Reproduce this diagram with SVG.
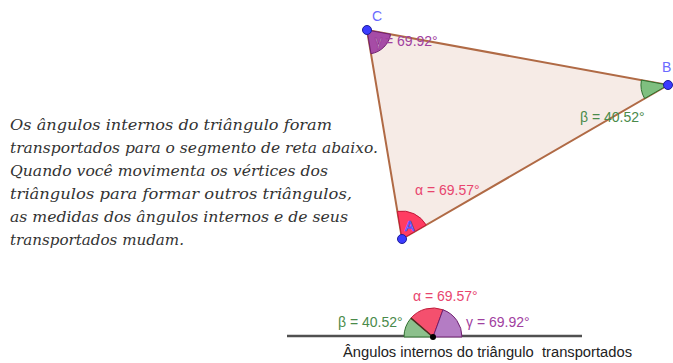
<svg xmlns="http://www.w3.org/2000/svg" width="673" height="363" viewBox="0 0 673 363">
<style>
.body{font-family:"DejaVu Serif","Liberation Serif",serif;font-style:italic;font-size:14px;fill:#333}
.lbl{font-family:"Liberation Sans",Arial,sans-serif;font-size:14px}
.pt{fill:#3b3bff;stroke:#1c1c9a;stroke-width:1}
.va{fill:#e8456e}.vb{fill:#4a8a4a}.vg{fill:#a040a0}
.wa{fill:#ff3d62;stroke:#c01838;stroke-width:1}
.wb{fill:#7fbf7f;stroke:#2e6e2e;stroke-width:1}
.wg{fill:#a64ca6;stroke:#6e1e6e;stroke-width:1}
</style>
<rect width="673" height="363" fill="#fff"/>
<g id="text">
<text class="body" x="10" y="130" textLength="322" lengthAdjust="spacingAndGlyphs">Os ângulos internos do triângulo foram</text>
<text class="body" x="10" y="153" textLength="368" lengthAdjust="spacingAndGlyphs">transportados para o segmento de reta abaixo.</text>
<text class="body" x="10" y="176" textLength="318" lengthAdjust="spacingAndGlyphs">Quando você movimenta os vértices dos</text>
<text class="body" x="10" y="199" textLength="342" lengthAdjust="spacingAndGlyphs">triângulos para formar outros triângulos,</text>
<text class="body" x="10" y="222" textLength="338" lengthAdjust="spacingAndGlyphs">as medidas dos ângulos internos e de seus</text>
<text class="body" x="10" y="245" textLength="174" lengthAdjust="spacingAndGlyphs">transportados mudam.</text>
</g>
<g id="triangle">
<polygon points="402,239 668,85 367,30" fill="#f6ebe6" stroke="#b06a45" stroke-width="2"/>
</g>
<g id="angle-alpha">
<path class="wa" d="M402,239 L426.2,225 A28,28 0 0 0 397.4,211.4 Z"/>
<text class="lbl va" x="415" y="195">α = 69.57°</text>
</g>
<g id="angle-beta">
<path class="wb" d="M668,85 L644.6,98.5 A27,27 0 0 1 641.4,80.1 Z"/>
<text class="lbl vb" x="580" y="122">β = 40.52°</text>
</g>
<g id="angle-gamma">
<path class="wg" d="M367,30 L390.6,34.3 A24,24 0 0 1 371,53.7 Z"/>
<text class="lbl" x="375" y="46" fill="#f2d6f2" stroke="#8a2a8a" stroke-width="0.7">γ</text>
<text class="lbl vg" x="385" y="46">= 69.92°</text>
</g>
<g id="point-A">
<text class="lbl" x="405" y="231" fill="#c8c8ff" stroke="#3b3bff" stroke-width="0.7">A</text>
<circle class="pt" cx="402" cy="239" r="4.5"/>
</g>
<g id="point-B">
<circle class="pt" cx="668" cy="85" r="4.5"/>
<text class="lbl" x="662" y="72" fill="#6a6aff">B</text>
</g>
<g id="point-C">
<circle class="pt" cx="367" cy="30" r="4.5"/>
<text class="lbl" x="372" y="21" fill="#6a6aff">C</text>
</g>
<g id="connectors">
<line x1="287" y1="336" x2="582" y2="336" stroke="#505050" stroke-width="2.5"/>
</g>
<g id="transported">
<path d="M433,337 L404,337 A29,29 0 0 1 410.95,318.17 Z" fill="#8cc08c" stroke="#2e6e2e" stroke-width="1"/>
<path d="M433,337 L410.95,318.17 A29,29 0 0 1 442.96,309.76 Z" fill="#f4506e" stroke="#c01838" stroke-width="1"/>
<path d="M433,337 L442.96,309.76 A29,29 0 0 1 462,337 Z" fill="#b47cc4" stroke="#6e1e6e" stroke-width="1"/>
<line x1="433" y1="337" x2="410.95" y2="318.17" stroke="#4a3020" stroke-width="1.5"/>
<circle cx="433" cy="337" r="3" fill="#000"/>
<text class="lbl va" x="413" y="301">α = 69.57°</text>
<text class="lbl vb" x="338" y="327">β = 40.52°</text>
<text class="lbl vg" x="466" y="327">γ = 69.92°</text>
</g>
<g id="caption">
<text class="lbl" x="343" y="357" fill="#222" font-size="13" textLength="289" lengthAdjust="spacingAndGlyphs" xml:space="preserve">Ângulos internos do triângulo  transportados</text>
</g>
</svg>
